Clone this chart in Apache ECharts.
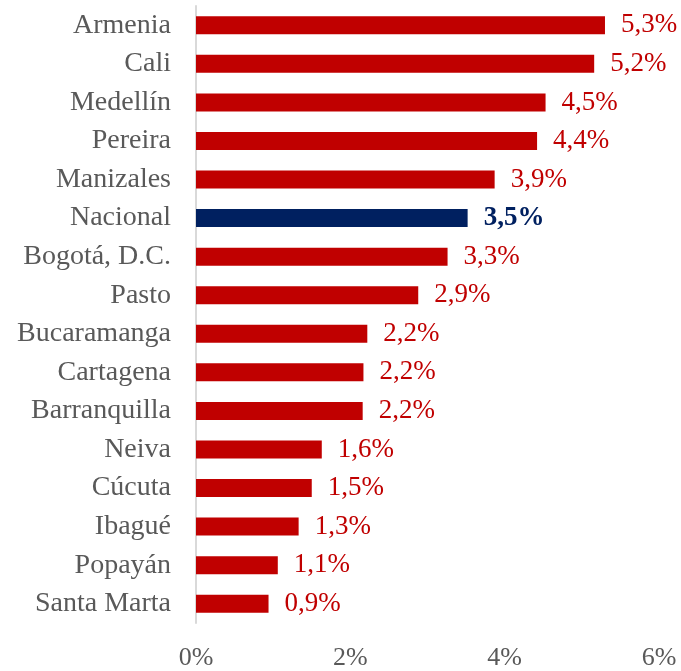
<!DOCTYPE html>
<html>
<head>
<meta charset="utf-8">
<script src="https://cdn.jsdelivr.net/npm/echarts@6/dist/echarts.min.js"></script>
<style>
  html, body { margin: 0; padding: 0; background: #fff; }
  #chart { width: 681px; height: 671px; }
</style>
</head>
<body>
<div id="chart"></div>
<script>
var chart = echarts.init(document.getElementById('chart'));

// top to bottom as in the picture
const cities = ['Armenia', 'Cali', 'Medellín', 'Pereira', 'Manizales', 'Nacional',
  'Bogotá, D.C.', 'Pasto', 'Bucaramanga', 'Cartagena', 'Barranquilla', 'Neiva',
  'Cúcuta', 'Ibagué', 'Popayán', 'Santa Marta'];
const values = [5.3, 5.16, 4.53, 4.42, 3.87, 3.52, 3.26, 2.88, 2.22, 2.17, 2.16, 1.63,
  1.5, 1.33, 1.06, 0.94];
const highlight = 'Nacional';

const font = 'Liberation Serif';
const red = '#C00000';
const navy = '#002060';

const barData = values.map(function (v, i) {
  const isNat = cities[i] === highlight;
  return {
    value: v,
    itemStyle: { color: isNat ? navy : red },
    label: isNat ? { color: navy, fontWeight: 'bold' } : {}
  };
});

var option = {
  animation: false,
  grid: { left: 196, right: 22, top: 6, bottom: 44 },
  xAxis: {
    type: 'value',
    min: 0,
    max: 6,
    interval: 2,
    axisLine: { show: false },
    axisTick: { show: false },
    splitLine: { show: false },
    axisLabel: {
      formatter: '{value}%',
      fontFamily: font,
      fontSize: 26,
      color: '#595959',
      margin: 22
    }
  },
  yAxis: {
    type: 'category',
    data: cities,
    inverse: true,
    axisLine: { show: true, lineStyle: { color: '#D9D9D9', width: 2 } },
    axisTick: { show: false },
    axisLabel: {
      fontFamily: font,
      fontSize: 28,
      color: '#595959',
      margin: 25
    }
  },
  series: [
    {
      type: 'bar',
      data: barData,
      barWidth: 18,
      label: {
        show: true,
        position: 'right',
        distance: 16,
        fontFamily: font,
        fontSize: 27,
        color: red,
        formatter: function (p) {
          return p.value.toFixed(1).replace('.', ',') + '%';
        }
      }
    }
  ]
};

option && chart.setOption(option);
</script>
</body>
</html>
